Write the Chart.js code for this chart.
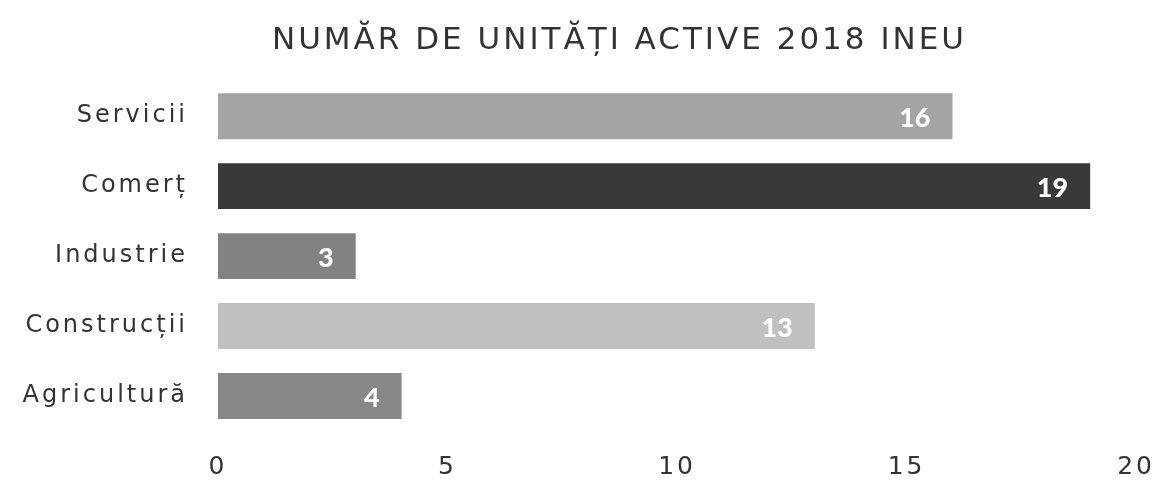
<!DOCTYPE html>
<html>
<head>
<meta charset="utf-8">
<script src="https://cdn.jsdelivr.net/npm/chart.js@4/dist/chart.umd.min.js"></script>
<style>
  body { margin: 0; background: #fff; }
  #wrap { width: 1165px; height: 483px; }
</style>
</head>
<body>
<div id="wrap"><canvas id="chart"></canvas></div>
<script>
const categories = ['Servicii', 'Comerț', 'Industrie', 'Construcții', 'Agricultură'];
const values = [16, 19, 3, 13, 4];
const barColors = ['#a4a4a4', '#393939', '#828282', '#c0c0c0', '#888888'];
const xTicks = [0, 5, 10, 15, 20];

// text mai rarefiat, ca in original
const spacing = {
  id: 'spacing',
  afterLayout(chart) {
    // titlul e putin spre dreapta in original
    if (chart.titleBlock) chart.titleBlock.left += 60;
  },
  beforeDraw(chart) {
    chart.ctx.letterSpacing = '3px';
  }
};

// etichete albe la capatul barelor
const valueLabels = {
  id: 'valueLabels',
  afterDatasetsDraw(chart) {
    const ctx = chart.ctx;
    const meta = chart.getDatasetMeta(0);
    ctx.save();
    ctx.letterSpacing = '0px';
    ctx.font = '900 27px Lato';
    ctx.fillStyle = '#fff';
    ctx.textAlign = 'right';
    ctx.textBaseline = 'middle';
    meta.data.forEach((bar, i) => {
      ctx.fillText(String(values[i]), bar.x - 22, bar.y + 2);
    });
    ctx.restore();
  }
};

const ctx = document.getElementById('chart');
new Chart(ctx, {
  type: 'bar',
  data: {
    labels: categories,
    datasets: [{
      data: values,
      backgroundColor: barColors,
      borderWidth: 0,
      barPercentage: 0.8,
      categoryPercentage: 0.82
    }]
  },
  options: {
    indexAxis: 'y',
    responsive: true,
    maintainAspectRatio: false,
    animation: false,
    layout: { padding: { left: 0, right: -14, top: 10, bottom: -12 } },
    plugins: {
      legend: { display: false },
      tooltip: { enabled: false },
      title: {
        display: true,
        text: 'NUMĂR DE UNITĂȚI ACTIVE 2018 INEU',
        color: '#333',
        font: { family: 'DejaVu Sans', size: 31, weight: 'normal' },
        padding: { top: 12, bottom: 22 }
      }
    },
    scales: {
      x: {
        min: 0,
        max: 20,
        afterBuildTicks: (axis) => { axis.ticks = xTicks.map(v => ({ value: v })); },
        grid: { display: false },
        border: { display: false },
        ticks: {
          color: '#333',
          font: { family: 'DejaVu Sans', size: 25 },
          padding: 13
        }
      },
      y: {
        afterFit: (axis) => { axis.width = 218; },
        grid: { display: false },
        border: { display: false },
        ticks: {
          color: '#333',
          font: { family: 'DejaVu Sans', size: 24 },
          padding: 22
        }
      }
    }
  },
  plugins: [spacing, valueLabels]
});
</script>
</body>
</html>
